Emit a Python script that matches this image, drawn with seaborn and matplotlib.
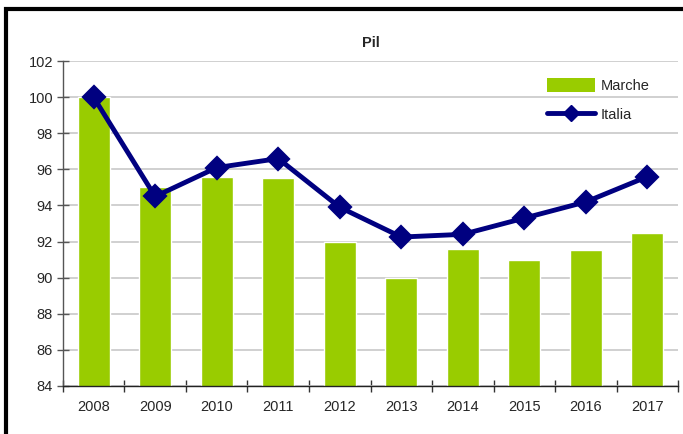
import numpy as np
import pandas as pd
import matplotlib
matplotlib.use("Agg")
import matplotlib.pyplot as plt
from matplotlib.lines import Line2D
from matplotlib.patches import Patch, Rectangle
import seaborn as sns

years = ["2008", "2009", "2010", "2011", "2012", "2013", "2014", "2015", "2016", "2017"]
marche = [100.0, 95.0, 95.6, 95.5, 92.0, 90.0, 91.6, 91.0, 91.55, 92.5]
italia = [100.0, 94.5, 96.1, 96.6, 93.9, 92.25, 92.4, 93.3, 94.2, 95.6]

green = "#99CC00"
navy = "#000080"

sns.set_style("white")
plt.rcParams["font.family"] = ["Liberation Sans", "DejaVu Sans"]

df = pd.DataFrame({"Anno": years, "Marche": marche, "Italia": italia})

fig = plt.figure(figsize=(6.83, 4.34), dpi=100)
ax = fig.add_axes([0.092, 0.111, 0.901, 0.748])

# horizontal grid behind the bars
ax.set_axisbelow(True)
ax.yaxis.grid(True, color="#c8c8c8", linewidth=1.2)

sns.barplot(data=df, x="Anno", y="Marche", color=green, width=0.52,
            saturation=1, ax=ax, zorder=2)
sns.pointplot(data=df, x="Anno", y="Italia", color=navy, markers="D",
              markersize=10, linewidth=3.5, ax=ax, zorder=3)

ax.set_ylim(84, 102)
ax.set_yticks(np.arange(84, 103, 2))
ax.set_xlim(-0.5, 9.5)
ax.set_xlabel("")
ax.set_ylabel("")
ax.set_title("Pil", fontsize=10.5, fontweight="bold", pad=10)

for s in ["top", "right"]:
    ax.spines[s].set_visible(False)
ax.spines["left"].set_color("#555555")
ax.spines["bottom"].set_color("#222222")
ax.spines["left"].set_linewidth(1.0)
ax.spines["bottom"].set_linewidth(1.0)

ax.tick_params(axis="y", which="major", left=True, direction="inout", length=8,
               width=1, color="#555555", labelsize=10.5, pad=3)
ax.tick_params(axis="x", which="major", bottom=False, length=0, labelsize=10.5, pad=10)
ax.set_xticks(np.arange(-0.5, 10, 1), minor=True)
ax.tick_params(axis="x", which="minor", bottom=True, direction="inout", length=8,
               width=1, color="#333333")

handles = [Patch(facecolor=green, edgecolor="none"),
           Line2D([0], [0], color=navy, lw=3.5, marker="D", markersize=8)]
ax.legend(handles, ["Marche", "Italia"], loc="upper right",
          bbox_to_anchor=(0.975, 0.99), frameon=False, fontsize=10.5,
          handlelength=3.3, handleheight=1.1, labelspacing=1.0, handletextpad=0.4)

# outer frame of the original image
fig.add_artist(Rectangle((6 / 683, -0.1), 1.1, 1.1 - 9 / 434, transform=fig.transFigure,
                         fill=False, edgecolor="black", linewidth=3))

fig.savefig("out.png", dpi=100)
